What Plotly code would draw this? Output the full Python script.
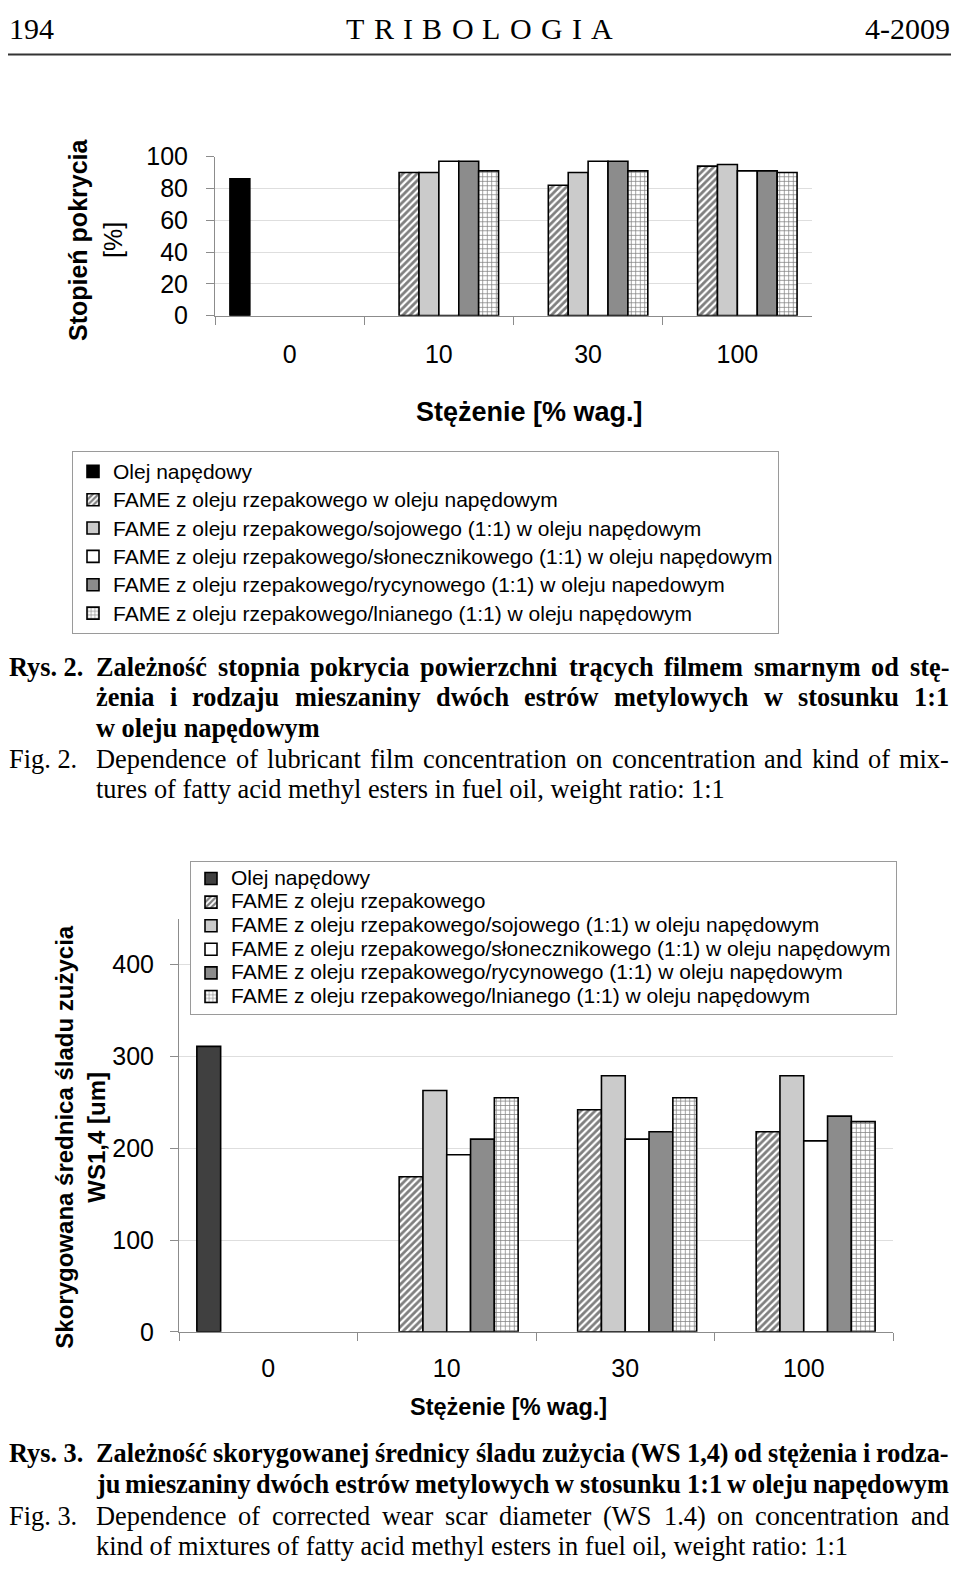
import plotly.graph_objects as go

# page is rendered with the browser's default 8px body margin
PAGE_W, PAGE_H = 960, 1579
M = 8
W, H = PAGE_W - 2 * M, PAGE_H - 2 * M


def px(x):
    return (x - M) / W


def py(y):
    return 1 - (y - M) / H


# ---------------- data ----------------
categories = ["0", "10", "30", "100"]

legend1_names = [
    "Olej napędowy",
    "FAME z oleju rzepakowego w oleju napędowym",
    "FAME z oleju rzepakowego/sojowego (1:1) w oleju napędowym",
    "FAME z oleju rzepakowego/słonecznikowego (1:1) w oleju napędowym",
    "FAME z oleju rzepakowego/rycynowego (1:1) w oleju napedowym",
    "FAME z oleju rzepakowego/lnianego (1:1) w oleju napędowym",
]
legend2_names = [
    "Olej napędowy",
    "FAME z oleju rzepakowego",
    "FAME z oleju rzepakowego/sojowego (1:1) w oleju napędowym",
    "FAME z oleju rzepakowego/słonecznikowego (1:1) w oleju napędowym",
    "FAME z oleju rzepakowego/rycynowego (1:1) w oleju napędowym",
    "FAME z oleju rzepakowego/lnianego (1:1) w oleju napędowym",
]

# Fig. 2 - degree of coverage [%]
coverage_olej = [86, None, None, None]
coverage_rzep = [None, 90, 82, 94]
coverage_soj = [None, 90, 90, 95]
coverage_slon = [None, 97, 97, 91]
coverage_ryc = [None, 97, 97, 91]
coverage_lni = [None, 91, 91, 90]

# Fig. 3 - corrected wear scar diameter WS1,4 [um]
wear_olej = [311, None, None, None]
wear_rzep = [None, 169, 242, 218]
wear_soj = [None, 263, 279, 279]
wear_slon = [None, 193, 210, 208]
wear_ryc = [None, 210, 218, 235]
wear_lni = [None, 255, 255, 229]

y1_ticks = [0, 20, 40, 60, 80, 100]
y2_ticks = [0, 100, 200, 300, 400]

coverage = [coverage_olej, coverage_rzep, coverage_soj, coverage_slon, coverage_ryc, coverage_lni]
wear = [wear_olej, wear_rzep, wear_soj, wear_slon, wear_ryc, wear_lni]

# page header and caption text (lines as typeset in the page)
header_title = "TRIBOLOGIA"
caption2_pl = [
    "Zależność stopnia pokrycia powierzchni trących filmem smarnym od stę-",
    "żenia i rodzaju mieszaniny dwóch estrów metylowych w stosunku 1:1",
    "w oleju napędowym",
]
caption2_en = [
    "Dependence of lubricant film concentration on concentration and kind of mix-",
    "tures of fatty acid methyl esters in fuel oil, weight ratio: 1:1",
]
caption3_pl = [
    "Zależność skorygowanej średnicy śladu zużycia (WS 1,4) od stężenia i rodza-",
    "ju mieszaniny dwóch estrów metylowych w stosunku 1:1 w oleju napędowym",
]
caption3_en = [
    "Dependence of corrected wear scar diameter (WS 1.4) on concentration and",
    "kind of mixtures of fatty acid methyl esters in fuel oil, weight ratio: 1:1",
]


# ---------------- styles ----------------
def style(i, olej_color):
    line = dict(color="black", width=1.6)
    if i == 0:
        return dict(color=olej_color, line=line)
    if i == 1:
        return dict(color="white", line=line,
                    pattern=dict(shape="/", fgcolor="black", bgcolor="white", size=5, solidity=0.55))
    if i == 2:
        return dict(color="#cbcbcb", line=line)
    if i == 3:
        return dict(color="white", line=line)
    if i == 4:
        return dict(color="#8c8c8c", line=line)
    return dict(color="white", line=line,
                pattern=dict(shape="+", fgcolor="black", bgcolor="white", size=4.5, solidity=0.3))


def legend_label(t):
    return '<span style="font-size:21px">' + t + "</span>"


fig = go.Figure()
for i, vals in enumerate(coverage):
    fig.add_trace(go.Bar(x=categories, y=vals, name=legend_label(legend1_names[i]),
                         marker=style(i, "#000000"), xaxis="x", yaxis="y", legend="legend"))
for i, vals in enumerate(wear):
    fig.add_trace(go.Bar(x=categories, y=vals, name=legend_label(legend2_names[i]),
                         marker=style(i, "#404040"), xaxis="x2", yaxis="y2", legend="legend2"))

sans = "Liberation Sans, Arial"
serif = "Liberation Serif, Times New Roman"
axcol = "#8c8c8c"

fig.update_layout(
    width=W, height=H,
    margin=dict(l=0, r=0, t=0, b=0),
    paper_bgcolor="white", plot_bgcolor="white",
    barmode="group", bargap=0.2, bargroupgap=0,
    xaxis=dict(domain=[px(215), px(812)], anchor="y", type="category",
               showline=True, linecolor=axcol, linewidth=1,
               ticks="outside", tickson="boundaries", ticklen=8, tickcolor=axcol,
               tickfont=dict(family=sans, size=25, color="black"),
               ticklabelstandoff=16, showgrid=False, fixedrange=True),
    yaxis=dict(domain=[py(307), py(145)], anchor="x", range=[0, 100],
               tickvals=y1_ticks, showline=True, linecolor=axcol, linewidth=1,
               ticks="outside", ticklen=8, tickcolor=axcol,
               tickfont=dict(family=sans, size=25, color="black"),
               ticklabelstandoff=13, showgrid=True, gridcolor="#dedede", zeroline=False,
               fixedrange=True),
    xaxis2=dict(domain=[px(179), px(893)], anchor="y2", type="category",
                showline=True, linecolor=axcol, linewidth=1,
                ticks="outside", tickson="boundaries", ticklen=8, tickcolor=axcol,
                tickfont=dict(family=sans, size=25, color="black"),
                ticklabelstandoff=14, showgrid=False, fixedrange=True),
    yaxis2=dict(domain=[py(1341.7), py(921.2)], anchor="x2", range=[0, 450],
                tickvals=y2_ticks, showline=True, linecolor=axcol, linewidth=1,
                ticks="outside", ticklen=8, tickcolor=axcol,
                tickfont=dict(family=sans, size=25, color="black"),
                ticklabelstandoff=11, showgrid=True, gridcolor="#dedede", zeroline=False,
                fixedrange=True),
    legend=dict(x=px(72), y=py(445), xanchor="left", yanchor="top",
                bordercolor="#9a9a9a", borderwidth=1, bgcolor="white",
                font=dict(family=sans, size=19.5, color="black"), traceorder="normal"),
    legend2=dict(x=px(190), y=py(862), xanchor="left", yanchor="top",
                 bordercolor="#9a9a9a", borderwidth=1, bgcolor="white",
                 font=dict(family=sans, size=15.85, color="black"), traceorder="normal"),
)

ann = []


def text(x, y, s, size, family, xanchor="left", bold=False, angle=0, color="black"):
    if bold:
        s = "<b>" + s + "</b>"
    ann.append(dict(x=px(x), y=py(y), xref="paper", yref="paper", text=s, showarrow=False,
                    xanchor=xanchor, yanchor="middle", textangle=angle, borderpad=0,
                    font=dict(family=family, size=size, color=color)))


# Times metrics (per 1000 em), used to justify text lines like the printed page
_reg = dict(zip("abcdefghijklmnopqrstuvwxyz",
                [444, 500, 444, 500, 444, 333, 500, 500, 278, 278, 500, 278, 778, 500, 500, 500,
                 500, 333, 389, 278, 500, 500, 722, 500, 500, 444]))
_reg.update(dict(zip("ąćęłńóśźż", [444, 444, 444, 278, 500, 500, 389, 444, 444])))
_reg.update(dict(zip("ABCDEFGHIJKLMNOPQRSTUVWXYZ",
                     [722, 667, 667, 722, 611, 556, 722, 722, 333, 389, 722, 611, 889, 722, 722, 556,
                      722, 667, 556, 611, 722, 722, 944, 722, 722, 611])))
_reg.update({d: 500 for d in "0123456789"})
_reg.update({" ": 250, ".": 250, ",": 250, ":": 278, "(": 333, ")": 333, "-": 333})
_bold = dict(zip("abcdefghijklmnopqrstuvwxyz",
                 [500, 556, 444, 556, 444, 333, 500, 556, 278, 333, 556, 278, 833, 556, 500, 556,
                  556, 444, 389, 333, 556, 500, 722, 500, 500, 444]))
_bold.update(dict(zip("ąćęłńóśźż", [500, 444, 444, 278, 556, 500, 389, 444, 444])))
_bold.update(dict(zip("ABCDEFGHIJKLMNOPQRSTUVWXYZ",
                      [722, 667, 722, 722, 667, 611, 778, 778, 389, 500, 778, 667, 944, 722, 778, 611,
                       778, 722, 556, 667, 722, 722, 1000, 722, 722, 667])))
_bold.update({d: 500 for d in "0123456789"})
_bold.update({" ": 250, ".": 250, ",": 250, ":": 333, "(": 333, ")": 333, "-": 333})


def word_width(w, size, bold):
    table = _bold if bold else _reg
    return sum(table.get(c, 500) for c in w) * size / 1000.0


def spread(words, y, size, bold, x0, x1):
    widths = [word_width(w, size, bold) for w in words]
    gap = (x1 - x0 - sum(widths)) / (len(words) - 1)
    x = x0
    for w, wd in zip(words, widths):
        text(x, y, w, size, serif, bold=bold)
        x += wd + gap


def caption_line(line, y, size, bold, justify, x0=95, x1=948):
    if not justify:
        text(x0, y, line, size, serif, bold=bold)
    else:
        spread(line.split(" "), y, size, bold, x0, x1)


# header
text(8, 15, "194", 30, serif)
spread(list(header_title), 15, 30, False, 345, 612)
text(951, 15, "4-2009", 30, serif, xanchor="right")

# chart 1 titles
text(78, 230, "Stopień pokrycia", 25, sans, xanchor="center", bold=True, angle=-90)
text(113, 230, "[%]", 25, sans, xanchor="center", angle=-90)
text(529, 405, "Stężenie [% wag.]", 27, sans, xanchor="center", bold=True)

# chart 2 titles
text(65, 1144, "Skorygowana średnica śladu zużycia", 24, sans, xanchor="center", bold=True, angle=-90)
text(97, 1144, "WS1,4 [um]", 24, sans, xanchor="center", bold=True, angle=-90)
text(508, 1418, "Stężenie [% wag.]", 23.5, sans, xanchor="center", bold=True)

# captions
cb, cr = 26.3, 26.4
text(8, 665, "Rys. 2.", cb, serif, bold=True)
caption_line(caption2_pl[0], 665, cb, True, True)
caption_line(caption2_pl[1], 696, cb, True, True)
caption_line(caption2_pl[2], 727, cb, True, False)
text(8, 758, "Fig. 2.", cr, serif)
caption_line(caption2_en[0], 758, cr, False, True)
caption_line(caption2_en[1], 789, cr, False, False)

text(8, 1466, "Rys. 3.", cb, serif, bold=True)
caption_line(caption3_pl[0], 1466, cb, True, True)
caption_line(caption3_pl[1], 1497, cb, True, True)
text(8, 1529, "Fig. 3.", cr, serif)
caption_line(caption3_en[0], 1529, cr, False, True)
caption_line(caption3_en[1], 1560, cr, False, False)

fig.update_layout(annotations=ann)

fig.add_shape(type="line", xref="paper", yref="paper", x0=px(8), x1=px(951), y0=py(41), y1=py(41),
              line=dict(color="#333333", width=2))

fig.write_html("out.html")
